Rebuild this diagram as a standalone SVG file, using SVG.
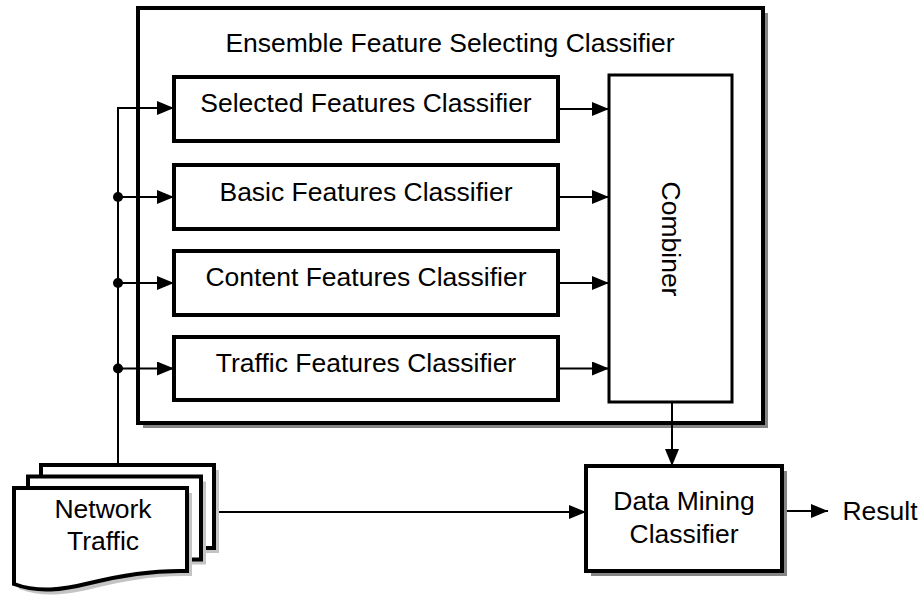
<svg xmlns="http://www.w3.org/2000/svg" width="924" height="597" viewBox="0 0 924 597">
<style>
text{font-family:"Liberation Sans",Arial,sans-serif;font-size:26.5px;fill:#000;text-anchor:middle}
.box{fill:#fff;stroke:#000;stroke-width:4}
.thin{fill:#fff;stroke:#000;stroke-width:3}
.sh{fill:#858585;stroke:none}
.dsh{fill:#c4c4c4;stroke:none}
.ln{fill:none;stroke:#000;stroke-width:2}
.dot{fill:#000}
</style>
<defs>
<marker id="ah" markerUnits="userSpaceOnUse" markerWidth="17" markerHeight="14" refX="17" refY="7" orient="auto">
<path d="M0,0 L17,7 L0,14 z" fill="#000"/>
</marker>
<path id="docshape" d="M14,488 H187 V571 C150,570 118,576 90,583 C62,590 38,593 14,584 Z"/>
</defs>

<g id="ensemble">
<rect class="sh" x="143" y="13" width="625" height="415"/>
<rect class="box" x="138" y="8" width="625" height="415"/>
<text x="450" y="52">Ensemble Feature Selecting Classifier</text>
</g>

<g id="selected">
<rect class="box" x="174" y="77" width="384" height="64"/>
<text x="366" y="112">Selected Features Classifier</text>
</g>
<g id="basic">
<rect class="box" x="174" y="165" width="384" height="64"/>
<text x="366" y="201">Basic Features Classifier</text>
</g>
<g id="content">
<rect class="box" x="174" y="251" width="384" height="64"/>
<text x="366" y="286">Content Features Classifier</text>
</g>
<g id="traffic">
<rect class="box" x="174" y="337" width="384" height="63"/>
<text x="366" y="372">Traffic Features Classifier</text>
</g>

<g id="combiner">
<rect class="thin" x="609" y="75" width="123" height="327"/>
<text transform="translate(662,239) rotate(90)">Combiner</text>
</g>

<g id="datamining">
<rect class="sh" x="591" y="471" width="196" height="105"/>
<rect class="box" x="586" y="466" width="196" height="105"/>
<text x="684" y="510">Data Mining</text>
<text x="684" y="543">Classifier</text>
</g>

<g id="network">
<use href="#docshape" class="dsh" transform="translate(32,-18)"/>
<use href="#docshape" class="box" transform="translate(27,-23)"/>
<use href="#docshape" class="dsh" transform="translate(19,-6.5)"/>
<use href="#docshape" class="box" transform="translate(14,-11.5)"/>
<use href="#docshape" class="dsh" transform="translate(5,5)"/>
<use href="#docshape" class="box"/>
<text x="103" y="518">Network</text>
<text x="103" y="550">Traffic</text>
</g>

<g id="result">
<text x="880" y="520">Result</text>
</g>

<g id="connectors">
<path class="ln" d="M118,465 V108 H174" marker-end="url(#ah)"/>
<path class="ln" d="M118,197 H174" marker-end="url(#ah)"/>
<path class="ln" d="M118,283 H174" marker-end="url(#ah)"/>
<path class="ln" d="M118,368.5 H174" marker-end="url(#ah)"/>
<circle class="dot" cx="118" cy="197" r="5"/>
<circle class="dot" cx="118" cy="283" r="5"/>
<circle class="dot" cx="118" cy="368.5" r="5"/>
<path class="ln" d="M558,109 H609" marker-end="url(#ah)"/>
<path class="ln" d="M558,197 H609" marker-end="url(#ah)"/>
<path class="ln" d="M558,283 H609" marker-end="url(#ah)"/>
<path class="ln" d="M558,368.5 H609" marker-end="url(#ah)"/>
<path class="ln" d="M672,402 V466" marker-end="url(#ah)"/>
<path class="ln" d="M219,512 H586" marker-end="url(#ah)"/>
<path class="ln" d="M787,511 H828" marker-end="url(#ah)"/>
</g>
</svg>
